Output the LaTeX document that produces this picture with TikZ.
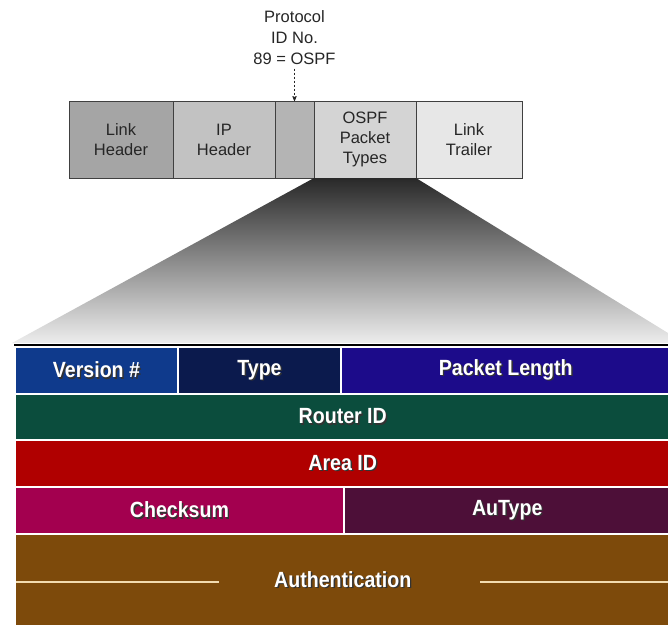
\documentclass[tikz,border=0pt]{standalone}
\usepackage{fontspec}
\setmainfont{Liberation Sans}
\newfontfamily\condfont[FakeStretch=0.89]{Liberation Sans}
\usepackage{tikz}
\usetikzlibrary{positioning}
\usetikzlibrary{arrows}
\definecolor{grayA}{HTML}{A5A5A5}
\definecolor{grayB}{HTML}{C2C2C2}
\definecolor{grayC}{HTML}{B4B4B4}
\definecolor{grayD}{HTML}{D4D4D4}
\definecolor{grayE}{HTML}{E7E7E7}
\definecolor{verBlue}{HTML}{0F3A8C}
\definecolor{typeNavy}{HTML}{0B1A4D}
\definecolor{lenBlue}{HTML}{1C0B8A}
\definecolor{rtrGreen}{HTML}{0B4D3D}
\definecolor{areaRed}{HTML}{B00000}
\definecolor{chkRed}{HTML}{A3004F}
\definecolor{auPurple}{HTML}{4D0F38}
\definecolor{authBrown}{HTML}{7D4A0B}
\definecolor{authLine}{HTML}{F3DCB0}
\newcommand{\txtshadow}[1]{\rlap{\hspace{1.4pt}\raisebox{-1.4pt}{\color{black!80}#1}}#1}

\begin{document}
\begin{tikzpicture}[x=1pt,y=-1pt,node distance=0pt,>=stealth',
		frame/.style={rectangle,draw=black!75,line width=0.6pt,outer sep=0pt,inner sep=0pt,
			minimum height=77pt,text=black!85,align=center,font=\fontsize{16.5}{20}\selectfont},
		field/.style={rectangle,draw=white,line width=2.4pt,outer sep=0pt,inner sep=0pt,
			anchor=north west,text=white,font=\condfont\bfseries\fontsize{22}{24}\selectfont}]
		\useasboundingbox (0,0) rectangle (668,630);

		% encapsulation
		\node[frame,fill=grayA,minimum width=104pt] (linkhdr) at (121,139.5) {Link\\Header};
		\node[frame,fill=grayB,minimum width=102pt] (iphdr) [right=of linkhdr] {IP\\Header};
		\node[frame,fill=grayC,minimum width=39pt]  (proto) [right=of iphdr] {};
		\node[frame,fill=grayD,minimum width=102pt] (ospf) [right=of proto] {OSPF\\Packet\\Types};
		\node[frame,fill=grayE,minimum width=106pt] (trailer) [right=of ospf] {Link\\Trailer};

		\node[align=center,text=black!85,font=\fontsize{16.5}{21}\selectfont] (protoid) at (294.5,38) {Protocol\\ID No.\\89 = OSPF};
		\draw[->,black!85,line width=0.8pt,dash pattern=on 2.5pt off 1.5pt] (protoid.south) -- (proto.north);

		% zoom fan
		\coordinate (fanl) at (12,343);
		\coordinate (fanr) at (668,333);
		\coordinate (fanc) at (668,343);
		\shade[top color=black!84,bottom color=black!7] (ospf.south west) -- (ospf.south east) -- (fanr) -- (fanc) -- (fanl) -- cycle;
		\coordinate (rulel) at (14,345);
		\coordinate (ruler) at (668,345);
		\draw[line width=1.8pt] (rulel) -- (ruler);

		% header fields
		\node[field,fill=verBlue,minimum width=163pt,minimum height=47pt] (ver) at (15,347) {\txtshadow{Version \#}};
		\node[field,fill=typeNavy,minimum width=163pt,minimum height=47pt] (type) [right=of ver.north east,anchor=north west] {\txtshadow{Type}};
		\node[field,fill=lenBlue,minimum width=329.5pt,minimum height=47pt] (plen) [right=of type.north east,anchor=north west] {\txtshadow{Packet Length}};
		\node[field,fill=rtrGreen,minimum width=655.5pt,minimum height=46pt] (router) [below=of ver.south west,anchor=north west] {\txtshadow{Router ID}};
		\node[field,fill=areaRed,minimum width=655.5pt,minimum height=47pt] (area) [below=of router.south west,anchor=north west] {\txtshadow{Area ID}};
		\node[field,fill=chkRed,minimum width=329pt,minimum height=47pt] (chksum) [below=of area.south west,anchor=north west] {\txtshadow{Checksum}};
		\node[field,fill=auPurple,minimum width=326.5pt,minimum height=47pt] (autype) [right=of chksum.north east,anchor=north west] {\txtshadow{AuType}};
		\node[field,fill=authBrown,minimum width=655.5pt,minimum height=92pt] (auth) [below=of chksum.south west,anchor=north west] {\txtshadow{Authentication}};

		\coordinate (authl1) at (16,582);
		\coordinate (authl2) at (219,582);
		\coordinate (authr1) at (480,582);
		\coordinate (authr2) at (668,582);
		\draw[authLine,line width=2.2pt] (authl1) -- (authl2) (authr1) -- (authr2);
		\end{tikzpicture}
\end{document}
